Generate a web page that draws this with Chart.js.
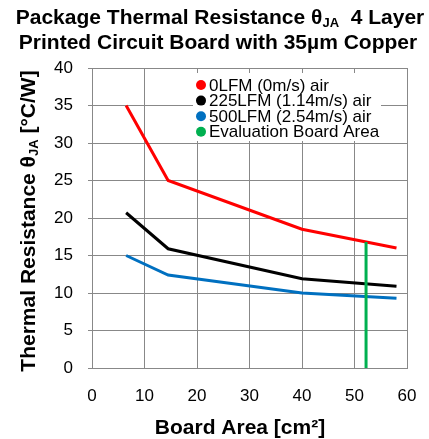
<!DOCTYPE html>
<html>
<head>
<meta charset="utf-8">
<script src="https://cdn.jsdelivr.net/npm/chart.js@4"></script>
<style>
  html, body { margin: 0; padding: 0; background: #fff; }
  #wrap { width: 429px; height: 439px; }
</style>
</head>
<body>
<div id="wrap"><canvas id="myChart"></canvas></div>
<script>
// board area [cm2] where the curves were measured
const boardArea = [6.5, 14.5, 40, 58];
const lfm0 = [35, 25, 18.5, 16];
const lfm225 = [20.7, 15.9, 11.9, 10.9];
const lfm500 = [15, 12.4, 10, 9.3];
const evalArea = 52.2;
const evalTop = 16.8;

const seriesNames = ['0LFM (0m/s) air', '225LFM (1.14m/s) air', '500LFM (2.54m/s) air', 'Evaluation Board Area'];
const seriesColors = ['#ff0000', '#000000', '#0070c0', '#00b050'];

const FONT = "'Liberation Sans', Arial, sans-serif";
const GRID = '#888888';

function pts(xs, ys) {
    return xs.map((x, i) => ({ x: x, y: ys[i] }));
}

// draws text with a subscript part, parts = [[text, sub], ...]
function drawParts(ctx, parts, cx, cy, size) {
    let total = 0;
    parts.forEach(p => {
        ctx.font = 'bold ' + (p[1] ? size * 0.62 : size) + 'px ' + FONT;
        total += ctx.measureText(p[0]).width;
    });
    let x = cx - total / 2;
    ctx.textAlign = 'left';
    ctx.textBaseline = 'middle';
    parts.forEach(p => {
        ctx.font = 'bold ' + (p[1] ? size * 0.62 : size) + 'px ' + FONT;
        ctx.fillText(p[0], x, p[1] ? cy + size * 0.28 : cy);
        x += ctx.measureText(p[0]).width;
    });
}

const textPlugin = {
    id: 'texts',
    afterDraw(chart) {
        const ctx = chart.ctx;
        ctx.save();
        ctx.fillStyle = '#000';
        drawParts(ctx, [['Package Thermal Resistance \u03b8'], ['JA', 1], ['  4 Layer']], 220, 18, 21);
        drawParts(ctx, [['Printed Circuit Board with 35\u00b5m Copper']], 218, 43, 21);
        drawParts(ctx, [['Board Area [cm\u00b2]']], 240, 428, 21);

        ctx.translate(29, 221);
        ctx.rotate(-Math.PI / 2);
        drawParts(ctx, [['Thermal Resistance \u03b8'], ['JA', 1], [' [\u00b0C/W]']], 0, 0, 21);
        ctx.restore();

        // legend inside the plot
        ctx.save();
        ctx.fillStyle = '#fff';
        ctx.fillRect(193, 73, 188, 68);
        ctx.font = '17px ' + FONT;
        ctx.textBaseline = 'middle';
        ctx.textAlign = 'left';
        seriesNames.forEach((name, i) => {
            const y = 85 + i * 15.6;
            ctx.fillStyle = seriesColors[i];
            ctx.beginPath();
            ctx.arc(201, y, 5, 0, Math.PI * 2);
            ctx.fill();
            ctx.fillStyle = '#000';
            ctx.fillText(name, 209, y + 1);
        });
        ctx.restore();
    }
};

const ctx = document.getElementById('myChart');

new Chart(ctx, {
    type: 'line',
    data: {
        datasets: [
            { label: seriesNames[0], data: pts(boardArea, lfm0), borderColor: seriesColors[0], order: 1 },
            { label: seriesNames[1], data: pts(boardArea, lfm225), borderColor: seriesColors[1], order: 1 },
            { label: seriesNames[2], data: pts(boardArea, lfm500), borderColor: seriesColors[2], order: 1 },
            { label: seriesNames[3], data: [{ x: evalArea, y: 0 }, { x: evalArea, y: evalTop }], borderColor: seriesColors[3], order: 0 }
        ]
    },
    plugins: [textPlugin],
    options: {
        responsive: true,
        maintainAspectRatio: false,
        animation: false,
        devicePixelRatio: 1,
        layout: { padding: { top: 68, right: 22, left: 0, bottom: 0 } },
        elements: {
            point: { radius: 0 },
            line: { borderWidth: 3, tension: 0, fill: false }
        },
        plugins: {
            legend: { display: false },
            title: { display: false },
            tooltip: { enabled: false }
        },
        scales: {
            x: {
                type: 'linear',
                min: 0,
                max: 60,
                afterFit: s => { s.height = 71; s.paddingLeft = 0; s.paddingRight = 0; },
                grid: { color: GRID, drawTicks: false },
                border: { color: GRID },
                ticks: { stepSize: 10, padding: 18, color: '#000', font: { family: FONT, size: 17 } }
            },
            y: {
                min: 0,
                max: 40,
                afterFit: s => { s.width = 92; s.paddingTop = 0; s.paddingBottom = 0; },
                grid: { color: GRID, tickLength: 4 },
                border: { color: GRID },
                ticks: { stepSize: 5, padding: 15, color: '#000', font: { family: FONT, size: 17 } }
            }
        }
    }
});
</script>
</body>
</html>
